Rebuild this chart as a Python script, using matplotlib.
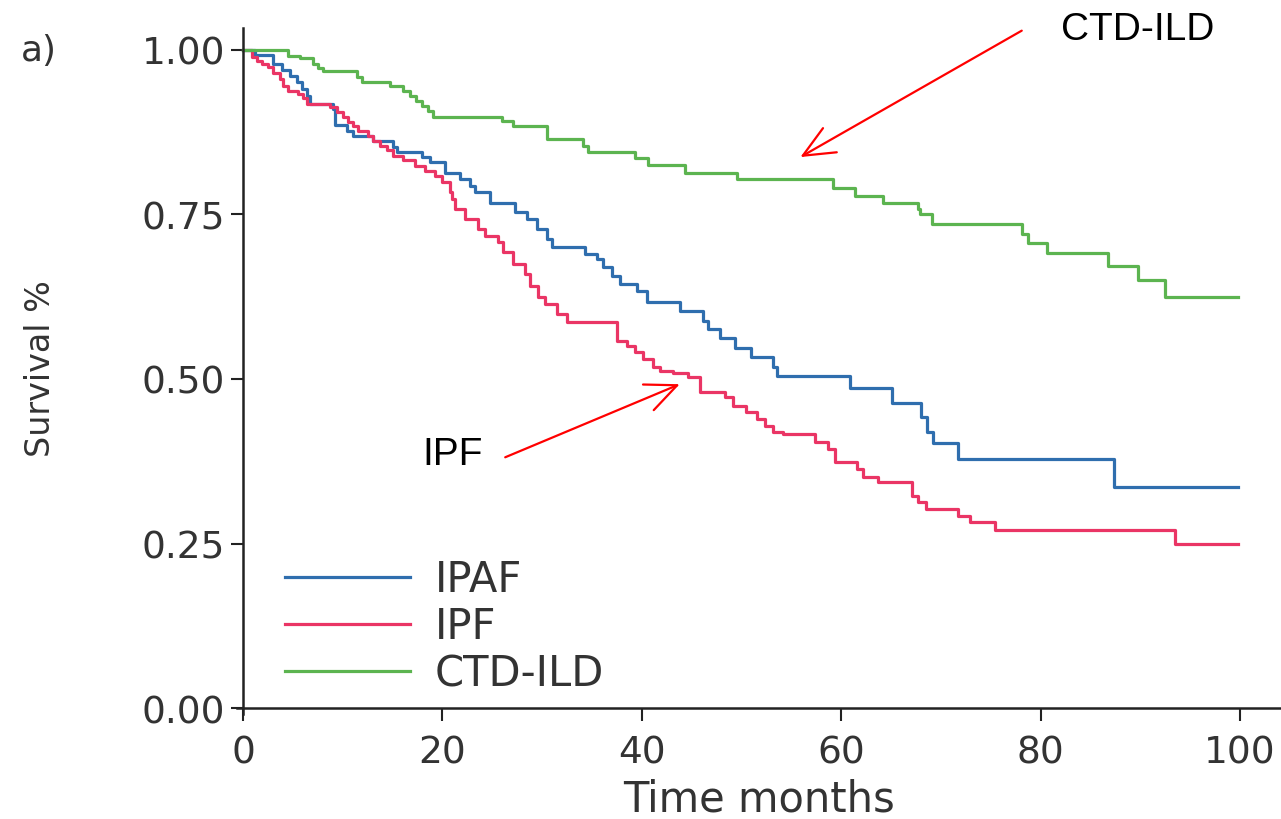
import matplotlib
matplotlib.use('Agg')
import matplotlib.pyplot as plt

# Kaplan-Meier step data (months, survival)
ipaf_t = [0, 1.2, 3.0, 3.9, 4.7, 5.4, 5.9, 6.4, 6.7, 9.0, 9.2, 10.4, 11.0, 13.0, 15.0,
          15.4, 18.0, 18.8, 20.3, 21.8, 22.8, 23.3, 24.8, 27.3, 28.5, 29.5, 30.5, 31.0,
          34.3, 35.5, 36.1, 37.0, 37.8, 39.5, 40.5, 43.8, 46.1, 46.6, 47.8, 49.3, 50.9,
          53.2, 53.6, 60.9, 65.1, 68.0, 68.6, 69.2, 71.7, 87.4, 99.8]
ipaf_s = [1.0, 0.992, 0.979, 0.970, 0.960, 0.951, 0.941, 0.929, 0.918, 0.910, 0.886,
          0.877, 0.869, 0.862, 0.853, 0.845, 0.837, 0.830, 0.813, 0.804, 0.793, 0.784,
          0.767, 0.754, 0.743, 0.728, 0.713, 0.701, 0.690, 0.682, 0.670, 0.657, 0.644,
          0.634, 0.617, 0.603, 0.588, 0.576, 0.562, 0.547, 0.533, 0.518, 0.505, 0.486,
          0.464, 0.442, 0.419, 0.403, 0.378, 0.336, 0.336]

ipf_t = [0, 0.9, 1.4, 1.9, 2.5, 3.0, 3.7, 4.0, 4.5, 5.5, 6.0, 6.4, 8.7, 9.4, 10.0, 10.5,
         11.0, 11.5, 12.5, 13.0, 13.7, 14.4, 15.0, 16.0, 17.3, 18.3, 19.3, 20.0, 20.8,
         21.0, 21.3, 22.3, 23.6, 24.3, 25.6, 26.1, 27.1, 28.3, 28.8, 29.6, 30.3, 31.5,
         32.5, 37.5, 38.5, 39.3, 40.1, 41.1, 41.8, 43.1, 44.6, 45.8, 48.3, 49.1, 50.4,
         51.6, 52.4, 53.2, 54.2, 57.4, 58.7, 59.4, 61.6, 62.2, 63.7, 67.1, 67.7, 68.5,
         71.7, 72.9, 75.4, 93.5, 99.8]
ipf_s = [1.0, 0.989, 0.983, 0.979, 0.974, 0.964, 0.956, 0.945, 0.938, 0.933, 0.926,
         0.918, 0.913, 0.906, 0.898, 0.891, 0.884, 0.877, 0.869, 0.862, 0.854, 0.847,
         0.839, 0.833, 0.824, 0.816, 0.809, 0.799, 0.784, 0.774, 0.758, 0.743, 0.728,
         0.717, 0.708, 0.693, 0.675, 0.660, 0.641, 0.625, 0.614, 0.599, 0.587, 0.558,
         0.550, 0.541, 0.530, 0.518, 0.512, 0.509, 0.503, 0.480, 0.473, 0.459, 0.450,
         0.439, 0.429, 0.419, 0.416, 0.404, 0.394, 0.374, 0.363, 0.351, 0.343, 0.322,
         0.313, 0.302, 0.292, 0.283, 0.271, 0.249, 0.249]

ctd_t = [0, 4.5, 5.7, 7.0, 7.5, 8.0, 11.4, 11.9, 14.7, 16.0, 16.8, 17.4, 18.0, 18.6,
         19.1, 26.0, 27.1, 30.5, 34.1, 34.6, 39.3, 40.6, 44.3, 49.5, 59.2, 61.4, 64.2,
         67.7, 67.9, 69.1, 78.1, 78.7, 80.6, 86.8, 89.8, 92.5, 99.8]
ctd_s = [1.0, 0.991, 0.988, 0.979, 0.973, 0.967, 0.959, 0.951, 0.945, 0.938, 0.930,
         0.922, 0.915, 0.907, 0.898, 0.892, 0.884, 0.865, 0.854, 0.845, 0.836, 0.825,
         0.813, 0.804, 0.790, 0.778, 0.767, 0.758, 0.751, 0.736, 0.720, 0.707, 0.691,
         0.672, 0.650, 0.625, 0.625]

x_ticks = [0, 20, 40, 60, 80, 100]
y_ticks = [0.0, 0.25, 0.5, 0.75, 1.0]

fig = plt.figure(figsize=(12.81, 8.20), dpi=100)
ax = fig.add_axes([0.185, 0.128, 0.815, 0.8366])

txt = '#333333'
ax.step(ipaf_t, ipaf_s, where='post', color='#2f6eae', lw=2.3, label='IPAF')
ax.step(ipf_t, ipf_s, where='post', color='#ea3565', lw=2.3, label='IPF')
ax.step(ctd_t, ctd_s, where='post', color='#5cb450', lw=2.3, label='CTD-ILD')

ax.set_xlim(-0.6, 104.1)
ax.set_ylim(-0.009, 1.033)
for s in ['top', 'right']:
    ax.spines[s].set_visible(False)
ax.spines['left'].set_position(('data', 0))
ax.spines['bottom'].set_position(('data', 0))
for s in ['left', 'bottom']:
    ax.spines[s].set_linewidth(1.8)
    ax.spines[s].set_color('#222222')

ax.set_xticks(x_ticks)
ax.set_yticks(y_ticks)
ax.set_yticklabels(['%.2f' % v for v in y_ticks])
ax.tick_params(axis='y', length=9, width=1.5, pad=4, labelsize=27, labelcolor=txt, color='#222222')
ax.tick_params(axis='x', length=9, width=1.5, pad=10, labelsize=27, labelcolor=txt, color='#222222')

ax.set_xlabel('Time months', fontsize=30, color=txt, labelpad=5)
fig.text(0.032, 0.55, 'Survival %', rotation=90, fontsize=24, color=txt, ha='center', va='center')
fig.text(0.016, 0.938, 'a)', fontsize=26, color=txt, ha='left', va='center')

leg = ax.legend(loc='lower left', bbox_to_anchor=(0.2225, 0.152), bbox_transform=fig.transFigure,
                frameon=False, fontsize=30, handlelength=3.0, handletextpad=0.6,
                labelspacing=0.12, borderpad=0, borderaxespad=0)
for t in leg.get_texts():
    t.set_color(txt)

arrow = dict(arrowstyle='->, head_length=0.9, head_width=0.4', color='#ff0000', lw=1.6,
             mutation_scale=25, shrinkA=0, shrinkB=0)
ax.annotate('', xy=(55.9, 0.837), xytext=(78.1, 1.029), arrowprops=arrow, annotation_clip=False)
ax.annotate('', xy=(43.8, 0.492), xytext=(26.3, 0.381), arrowprops=arrow, annotation_clip=False)
ax.text(89.7, 1.032, 'CTD-ILD', fontsize=28, family='Liberation Sans', ha='center', va='center',
        clip_on=False)
ax.text(21.0, 0.386, 'IPF', fontsize=28, family='Liberation Sans', ha='center', va='center')

fig.savefig('out.png', dpi=100)
